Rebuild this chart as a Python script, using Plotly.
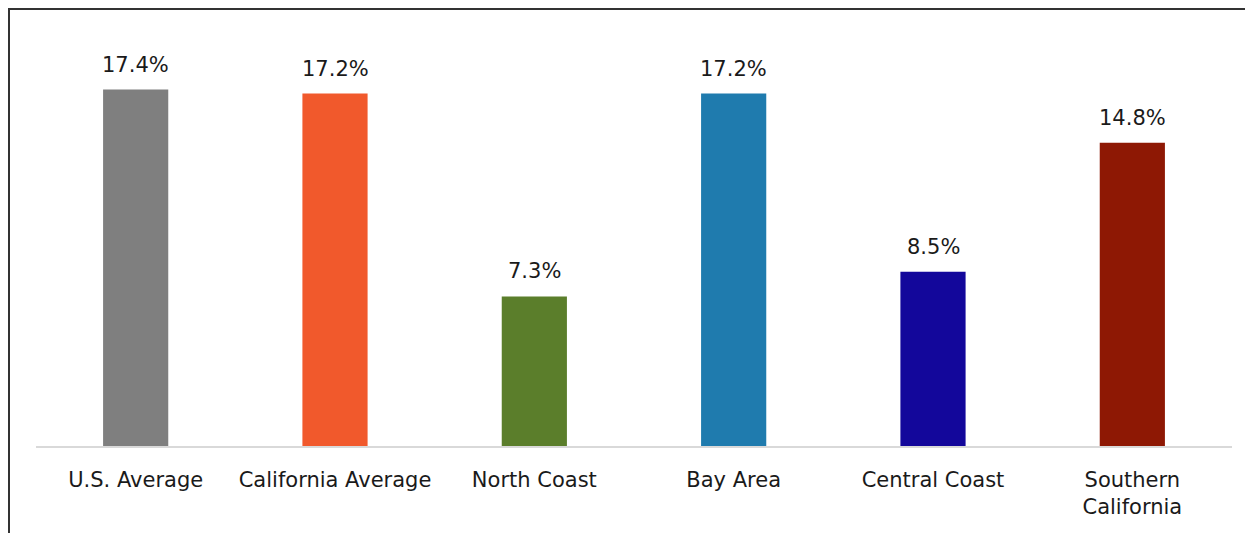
import plotly.graph_objects as go

categories = ["U.S. Average", "California Average", "North Coast", "Bay Area",
              "Central Coast", "Southern<br>California"]
values = [17.4, 17.2, 7.3, 17.2, 8.5, 14.8]
labels = ["17.4%", "17.2%", "7.3%", "17.2%", "8.5%", "14.8%"]
colors = ["#7F7F7F", "#F1592C", "#5B7E2B", "#1F7BAE", "#13079B", "#8E1804"]

FONT = "DejaVu Sans"
OFF = 8  # page body margin
W, H = 1253 - OFF, 533 - OFF
L, R, T, B = 36 - OFF, 21, 26 - OFF, 87
pw, ph = W - L - R, H - T - B

fig = go.Figure(go.Bar(x=categories, y=values, marker_color=colors,
                       marker_line_width=0, width=0.327, hoverinfo="skip"))

for c, v, t in zip(categories, values, labels):
    fig.add_annotation(x=c, y=v, text=t, showarrow=False, yanchor="bottom",
                       yshift=11, font=dict(family=FONT, size=21, color="#1a1a1a"))

def px_x(p):
    return (p - L) / pw

def px_y(p):
    return (H - B - p) / ph

fig.add_shape(type="rect", xref="paper", yref="paper",
              x0=px_x(1), x1=px_x(W - 4), y0=px_y(1), y1=px_y(H + 40),
              line=dict(color="#333333", width=2), fillcolor="rgba(0,0,0,0)")

fig.update_layout(
    width=W, height=H,
    margin=dict(l=L, r=R, t=T, b=B, pad=0),
    paper_bgcolor="white", plot_bgcolor="white",
    showlegend=False,
    font=dict(family=FONT, size=21, color="#1a1a1a"),
    xaxis=dict(showline=True, linecolor="#D9D9D9", linewidth=1.5,
               ticks="outside", ticklen=14, tickcolor="rgba(0,0,0,0)",
               tickfont=dict(family=FONT, size=21, color="#1a1a1a"),
               showgrid=False, fixedrange=True),
    yaxis=dict(range=[0, 20.5], visible=False, showgrid=False, fixedrange=True),
)

fig.write_html("out.html", config={"displayModeBar": False})
